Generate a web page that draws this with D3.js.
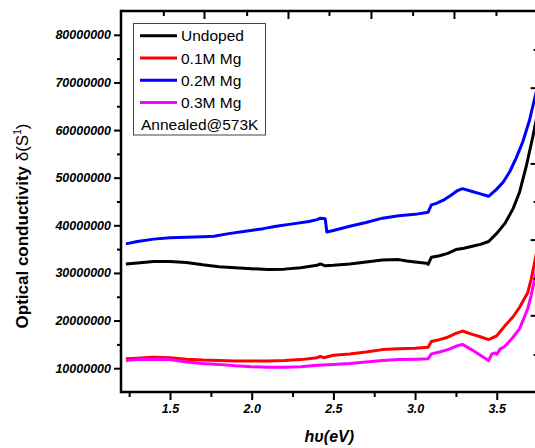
<!DOCTYPE html>
<html>
<head>
<meta charset="utf-8">
<script src="https://cdn.jsdelivr.net/npm/d3@7/dist/d3.min.js"></script>
<style>
html,body{margin:0;padding:0;background:#fff;overflow:hidden;}
svg{display:block;}
text{font-family:Arial,"Liberation Sans",sans-serif;}
</style>
</head>
<body>
<svg id="chart" width="535" height="448"></svg>
<script>
// ---- data (photon energy in eV, conductivity in units of 1e6) ----
const seriesNames = ["Undoped", "0.1M Mg", "0.2M Mg", "0.3M Mg"];
const seriesColors = ["#000000", "#ff0000", "#0000ff", "#ff00ff"];

const undoped = [[1.23,31.9],[1.3,32.1],[1.4,32.4],[1.5,32.4],[1.6,32.2],[1.7,31.7],[1.8,31.3],[1.9,31.1],[2.0,30.9],[2.1,30.7],[2.2,30.8],[2.3,31.1],[2.4,31.6],[2.42,31.9],[2.45,31.5],[2.5,31.6],[2.6,31.9],[2.7,32.3],[2.8,32.7],[2.9,32.8],[2.95,32.5],[3.0,32.3],[3.07,32.05],[3.08,31.8],[3.1,33.3],[3.15,33.6],[3.2,34.1],[3.25,34.9],[3.3,35.2],[3.35,35.6],[3.4,36.0],[3.45,36.6],[3.5,38.3],[3.55,40.4],[3.6,43.5],[3.64,47.0],[3.68,52.3],[3.72,58.5],[3.75,63.5]];
const mg01 = [[1.23,12.0],[1.3,12.1],[1.4,12.3],[1.5,12.2],[1.6,11.9],[1.7,11.7],[1.8,11.6],[1.9,11.5],[2.0,11.5],[2.1,11.5],[2.2,11.6],[2.3,11.8],[2.4,12.2],[2.42,12.5],[2.44,12.2],[2.5,12.7],[2.6,13.0],[2.7,13.4],[2.8,13.9],[2.9,14.1],[3.0,14.2],[3.08,14.4],[3.1,15.6],[3.14,15.9],[3.2,16.5],[3.25,17.3],[3.29,17.8],[3.35,17.1],[3.4,16.6],[3.45,16.0],[3.5,16.8],[3.56,19.3],[3.6,20.8],[3.64,22.8],[3.69,25.9],[3.71,28.6],[3.734,32.6],[3.75,35.5]];
const mg02 = [[1.23,36.1],[1.3,36.6],[1.4,37.1],[1.5,37.4],[1.6,37.5],[1.7,37.6],[1.77,37.7],[1.85,38.2],[1.95,38.7],[2.07,39.3],[2.15,39.8],[2.25,40.3],[2.35,40.8],[2.40,41.2],[2.42,41.5],[2.45,41.4],[2.46,38.6],[2.5,38.9],[2.6,39.8],[2.7,40.6],[2.8,41.5],[2.9,42.0],[3.0,42.3],[3.08,42.75],[3.1,44.3],[3.13,44.6],[3.18,45.4],[3.22,46.3],[3.26,47.3],[3.29,47.7],[3.35,47.1],[3.4,46.6],[3.45,46.1],[3.5,47.6],[3.54,49.1],[3.58,51.3],[3.62,54.2],[3.66,57.6],[3.70,62.0],[3.734,66.9],[3.75,69.3]];
const mg03 = [[1.23,11.6],[1.3,11.8],[1.4,11.9],[1.5,11.8],[1.6,11.3],[1.7,11.0],[1.8,10.8],[1.9,10.5],[2.0,10.3],[2.1,10.2],[2.2,10.2],[2.3,10.3],[2.4,10.6],[2.5,10.8],[2.6,11.0],[2.7,11.3],[2.8,11.6],[2.9,11.8],[3.0,11.9],[3.08,12.0],[3.1,13.0],[3.15,13.4],[3.2,13.9],[3.25,14.6],[3.29,15.0],[3.35,13.8],[3.4,12.7],[3.45,11.6],[3.47,13.0],[3.49,13.2],[3.5,12.9],[3.52,14.0],[3.55,14.6],[3.6,16.5],[3.64,18.3],[3.66,20.0],[3.69,22.5],[3.71,25.2],[3.725,27.6],[3.74,30.0],[3.75,31.8]];
const seriesData = [undoped, mg01, mg02, mg03];

const xTicksMajor = [1.5, 2.0, 2.5, 3.0, 3.5];
const xTicksMinor = [1.25, 1.75, 2.25, 2.75, 3.25];
const yTicksMajor = [10, 20, 30, 40, 50, 60, 70, 80];
const yTicksMinor = [15, 25, 35, 45, 55, 65, 75];
const topTicksMajor = [1.708, 2.222, 2.730, 3.238];
const topTicksMinor = [1.459, 1.969, 2.473, 2.985, 3.495];
const rightTicksMajor = [68.9, 53.0, 37.0, 21.1];
const rightTicksMinor = [76.9, 60.9, 45.0, 28.9, 12.9];
const legendNote = "Annealed@573K";

// ---- layout ----
const svg = d3.select("#chart");
const L = 121, R = 537.6, T = 11, B = 392;
const x = d3.scaleLinear().domain([1.2, 3.75]).range([L, R]);
const y = d3.scaleLinear().domain([5, 85]).range([B, T]);

svg.append("defs").append("clipPath").attr("id","clip")
  .append("rect").attr("x",L).attr("y",T).attr("width",R-L).attr("height",B-T);

// lines
const line = d3.line().x(d=>x(d[0])).y(d=>y(d[1]));
const g = svg.append("g").attr("clip-path","url(#clip)");
seriesData.forEach((s,i)=>{
  g.append("path").datum(s).attr("d",line)
    .attr("fill","none").attr("stroke",seriesColors[i])
    .attr("stroke-width",3).attr("stroke-linejoin","round");
});

// axes
const fmtY = v => d3.format("d")(v*1e6);
function styleAxis(sel, fs){
  sel.select(".domain").remove();
  sel.selectAll(".tick line").attr("stroke","#000").attr("stroke-width",2);
  sel.selectAll("text").attr("font-size",fs||12).attr("font-weight","bold").attr("font-style","italic").attr("fill","#000");
}
const yAx = svg.append("g").attr("transform",`translate(${L},0)`)
  .call(d3.axisLeft(y).tickValues(yTicksMajor).tickSize(7).tickPadding(3).tickFormat(fmtY));
styleAxis(yAx, 12.5);
const yAxMin = svg.append("g").attr("transform",`translate(${L},0)`)
  .call(d3.axisLeft(y).tickValues(yTicksMinor).tickSize(4).tickFormat(""));
styleAxis(yAxMin);

const xAx = svg.append("g").attr("transform",`translate(0,${B})`)
  .call(d3.axisBottom(x).tickValues(xTicksMajor).tickSize(8).tickPadding(4).tickFormat(d3.format(".1f")));
styleAxis(xAx, 12.5);
const xAxMin = svg.append("g").attr("transform",`translate(0,${B})`)
  .call(d3.axisBottom(x).tickValues(xTicksMinor).tickSize(5).tickFormat(""));
styleAxis(xAxMin);

const tAx = svg.append("g").attr("transform",`translate(0,${T})`)
  .call(d3.axisBottom(x).tickValues(topTicksMajor).tickSize(8).tickFormat(""));
styleAxis(tAx);
const tAxMin = svg.append("g").attr("transform",`translate(0,${T})`)
  .call(d3.axisBottom(x).tickValues(topTicksMinor).tickSize(5).tickFormat(""));
styleAxis(tAxMin);

const rAx = svg.append("g").attr("transform",`translate(${R},0)`)
  .call(d3.axisLeft(y).tickValues(rightTicksMajor).tickSize(7).tickFormat(""));
styleAxis(rAx);
const rAxMin = svg.append("g").attr("transform",`translate(${R},0)`)
  .call(d3.axisLeft(y).tickValues(rightTicksMinor).tickSize(4).tickFormat(""));
styleAxis(rAxMin);

// frame lines
svg.append("line").attr("x1",L).attr("x2",R).attr("y1",B).attr("y2",B).attr("stroke","#000").attr("stroke-width",2.5);
svg.append("line").attr("x1",L).attr("x2",R).attr("y1",T).attr("y2",T).attr("stroke","#000").attr("stroke-width",2.5);
svg.append("line").attr("x1",L).attr("x2",L).attr("y1",T-1.2).attr("y2",B+1.2).attr("stroke","#000").attr("stroke-width",2.5);

// axis titles
svg.append("text").attr("x",(L+R)/2).attr("y",442).attr("text-anchor","middle")
  .attr("font-size",16).attr("font-weight","bold").attr("font-style","italic").text("hυ(eV)");
const yl = svg.append("text").attr("transform","translate(28,226) rotate(-90)").attr("text-anchor","middle")
  .attr("font-size",17).attr("font-weight","bold");
yl.append("tspan").text("Optical conductivity ");
yl.append("tspan").attr("font-weight","normal").text("δ(S");
yl.append("tspan").attr("font-weight","normal").attr("font-size",10).attr("dy",-7).text("1");
yl.append("tspan").attr("font-weight","normal").attr("dy",7).text(")");

// legend
const lg = svg.append("g");
lg.append("rect").attr("x",133.5).attr("y",23.5).attr("width",132).attr("height",111.5)
  .attr("fill","#fff").attr("stroke","#444").attr("stroke-width",1);
const rowY = d3.scaleLinear().domain([0,1]).range([35.7, 58]);
seriesNames.forEach((n,i)=>{
  const yy = rowY(i);
  lg.append("line").attr("x1",140).attr("x2",177).attr("y1",yy).attr("y2",yy)
    .attr("stroke",seriesColors[i]).attr("stroke-width",3);
  lg.append("text").attr("x",181).attr("y",yy).attr("dy","0.36em").attr("font-size",15.5).text(n);
});
lg.append("text").attr("x",141).attr("y",rowY(4)).attr("dy","0.36em").attr("font-size",15.5).text(legendNote);
</script>
</body>
</html>
